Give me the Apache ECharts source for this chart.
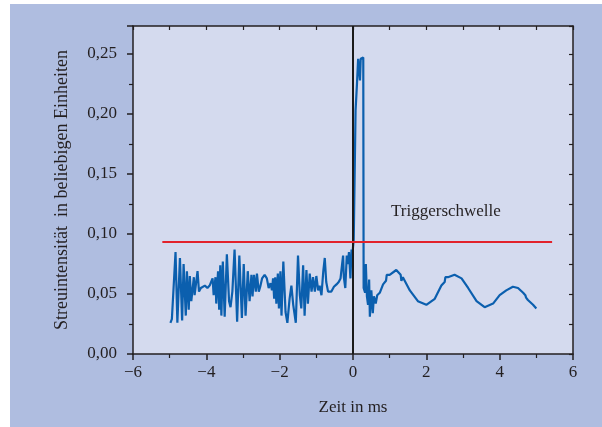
<!DOCTYPE html>
<html>
<head>
<meta charset="utf-8">
<script src="https://cdn.jsdelivr.net/npm/echarts@6/dist/echarts.min.js"></script>
<style>
  html, body { margin: 0; background: #ffffff; }
  #chart { position: absolute; left: 10px; top: 4px; width: 592px; height: 423px; background: #afbde0; }
</style>
</head>
<body>
<div id="chart"></div>
<script>
// scattered intensity over time (ms)
var timeMs = [
  -4.98, -4.94, -4.84, -4.79, -4.72, -4.66, -4.62, -4.56, -4.53, -4.48, -4.45, -4.41, -4.34, -4.32,
  -4.24, -4.20, -4.15, -4.11, -4.04, -3.97, -3.91, -3.83, -3.80, -3.75, -3.73, -3.68, -3.65, -3.62,
  -3.59, -3.55, -3.50, -3.44, -3.38, -3.34, -3.29, -3.23, -3.16, -3.10, -3.03, -2.98, -2.93, -2.87,
  -2.82, -2.77, -2.74, -2.70, -2.65, -2.62, -2.57, -2.53, -2.48, -2.41, -2.35, -2.30, -2.25, -2.21,
  -2.18, -2.15, -2.12, -2.09, -2.05, -2.02, -1.98, -1.95, -1.90, -1.84, -1.79, -1.73, -1.68, -1.63,
  -1.56, -1.50, -1.45, -1.41, -1.36, -1.32, -1.27, -1.23, -1.18, -1.13, -1.09, -1.04, -1.00, -0.95,
  -0.91, -0.86, -0.81, -0.77, -0.73, -0.68, -0.59, -0.52, -0.45, -0.39, -0.34, -0.30, -0.27, -0.25,
  -0.21, -0.17, -0.14, -0.11, -0.07, -0.04, -0.01, 0.00, 0.02, 0.07, 0.11, 0.14, 0.17, 0.19,
  0.21, 0.24, 0.28, 0.29, 0.33, 0.35, 0.38, 0.41, 0.44, 0.46, 0.50, 0.54, 0.57, 0.62,
  0.66, 0.73, 0.82, 0.90, 0.92, 1.00, 1.18, 1.30, 1.32, 1.36, 1.55, 1.77, 2.00, 2.23,
  2.41, 2.50, 2.52, 2.59, 2.77, 2.96, 3.14, 3.37, 3.59, 3.82, 4.00, 4.18, 4.36, 4.50,
  4.64, 4.70, 4.72, 4.77, 4.91, 5.00
];
var intensity = [
  0.026, 0.029, 0.085, 0.026, 0.080, 0.028, 0.075, 0.032, 0.069, 0.037, 0.065, 0.044, 0.064, 0.049,
  0.069, 0.052, 0.055, 0.056, 0.057, 0.055, 0.057, 0.063, 0.049, 0.064, 0.042, 0.069, 0.037, 0.074,
  0.032, 0.077, 0.031, 0.083, 0.044, 0.039, 0.052, 0.087, 0.027, 0.082, 0.030, 0.075, 0.032, 0.069,
  0.044, 0.066, 0.048, 0.066, 0.052, 0.067, 0.052, 0.056, 0.063, 0.066, 0.063, 0.055, 0.059, 0.053,
  0.063, 0.046, 0.064, 0.042, 0.067, 0.038, 0.069, 0.032, 0.077, 0.035, 0.026, 0.046, 0.057, 0.041,
  0.026, 0.082, 0.049, 0.038, 0.074, 0.032, 0.070, 0.042, 0.067, 0.052, 0.064, 0.052, 0.065, 0.053,
  0.057, 0.049, 0.069, 0.080, 0.060, 0.052, 0.052, 0.056, 0.058, 0.060, 0.063, 0.074, 0.082, 0.064,
  0.055, 0.082, 0.075, 0.085, 0.063, 0.087, 0.084, 0.089, 0.095, 0.203, 0.226, 0.246, 0.247, 0.228,
  0.246, 0.247, 0.247, 0.055, 0.051, 0.075, 0.048, 0.041, 0.062, 0.031, 0.053, 0.034, 0.048, 0.042,
  0.049, 0.051, 0.058, 0.061, 0.066, 0.066, 0.070, 0.066, 0.061, 0.064, 0.053, 0.044, 0.041, 0.046,
  0.057, 0.060, 0.064, 0.064, 0.066, 0.063, 0.055, 0.044, 0.039, 0.042, 0.049, 0.053, 0.056, 0.055,
  0.051, 0.049, 0.047, 0.045, 0.041, 0.038
];
// trigger threshold (red) and trigger instant (black)
var thresholdX = [-5.2, 5.43];
var thresholdY = [0.0933, 0.0933];
var triggerX = [0, 0];
var triggerY = [0, 0.2733];

var xMin = -6, xMax = 6, xStep = 2;
var yMin = 0, yMax = 0.2733, yStep = 0.05;

var serif = 'Liberation Serif';
var ink = '#231f20';

function pairs(xs, ys) {
  return xs.map(function (x, i) { return [x, ys[i]]; });
}

var myChart = echarts.init(document.getElementById('chart'));
myChart.setOption({
  animation: false,
  grid: {
    left: 123, right: 29, top: 22, bottom: 73,
    show: true, backgroundColor: '#d4daee', borderWidth: 0
  },
  graphic: [{
    type: 'text',
    left: 381, top: 199,
    style: { text: 'Triggerschwelle', font: '17px "Liberation Serif"', fill: ink }
  }],
  xAxis: [{
    type: 'value', min: xMin, max: xMax, interval: xStep,
    name: 'Zeit in ms', nameLocation: 'middle', nameGap: 45,
    nameTextStyle: { fontFamily: serif, fontSize: 17, color: ink },
    axisLine: { onZero: false, lineStyle: { color: ink, width: 1.5 } },
    axisTick: { length: 6, lineStyle: { color: ink, width: 1.5 } },
    minorTick: { show: true, splitNumber: 2, length: 4, lineStyle: { color: ink, width: 1.2 } },
    splitLine: { show: false },
    axisLabel: {
      margin: 10, fontFamily: serif, fontSize: 17, color: ink,
      formatter: function (v) { return v < 0 ? '\u2212' + (-v) : String(v); }
    }
  }, {
    type: 'value', position: 'top', min: xMin, max: xMax, interval: 1,
    axisLine: { onZero: false, lineStyle: { color: ink, width: 1.5 } },
    axisTick: { inside: true, length: 4, lineStyle: { color: ink, width: 1.2 } },
    axisLabel: { show: false }, splitLine: { show: false }
  }],
  yAxis: [{
    type: 'value', min: yMin, max: yMax, interval: yStep,
    name: 'Streuintensität  in beliebigen Einheiten', nameLocation: 'middle', nameGap: 62,
    nameTextStyle: { fontFamily: serif, fontSize: 18, color: ink },
    axisLine: { onZero: false, lineStyle: { color: ink, width: 1.5 } },
    axisTick: { length: 6, lineStyle: { color: ink, width: 1.5 } },
    minorTick: { show: true, splitNumber: 2, length: 4, lineStyle: { color: ink, width: 1.2 } },
    splitLine: { show: false },
    axisLabel: {
      margin: 16, fontFamily: serif, fontSize: 17, color: ink, showMaxLabel: false,
      formatter: function (v) {
        var k = Math.round(v / yStep);
        if (Math.abs(k * yStep - v) > 1e-6) return '';
        return (k * yStep).toFixed(2).replace('.', ',');
      }
    }
  }, {
    type: 'value', position: 'right', min: yMin, max: yMax, interval: 0.025,
    axisLine: { onZero: false, lineStyle: { color: ink, width: 1.5 } },
    axisTick: { inside: true, length: 4, lineStyle: { color: ink, width: 1.2 } },
    axisLabel: { show: false }, splitLine: { show: false }
  }],
  series: [{
    name: 'Streuintensität',
    type: 'line',
    data: pairs(timeMs, intensity),
    showSymbol: false,
    lineStyle: { color: '#0b5fae', width: 2.2 },
    z: 2
  }, {
    name: 'Trigger',
    type: 'line',
    data: pairs(triggerX, triggerY),
    showSymbol: false,
    lineStyle: { color: '#1a1a1a', width: 2 },
    z: 3
  }, {
    name: 'Triggerschwelle',
    type: 'line',
    data: pairs(thresholdX, thresholdY),
    showSymbol: false,
    lineStyle: { color: '#e2222b', width: 2 },
    z: 4
  }]
});
</script>
</body>
</html>
